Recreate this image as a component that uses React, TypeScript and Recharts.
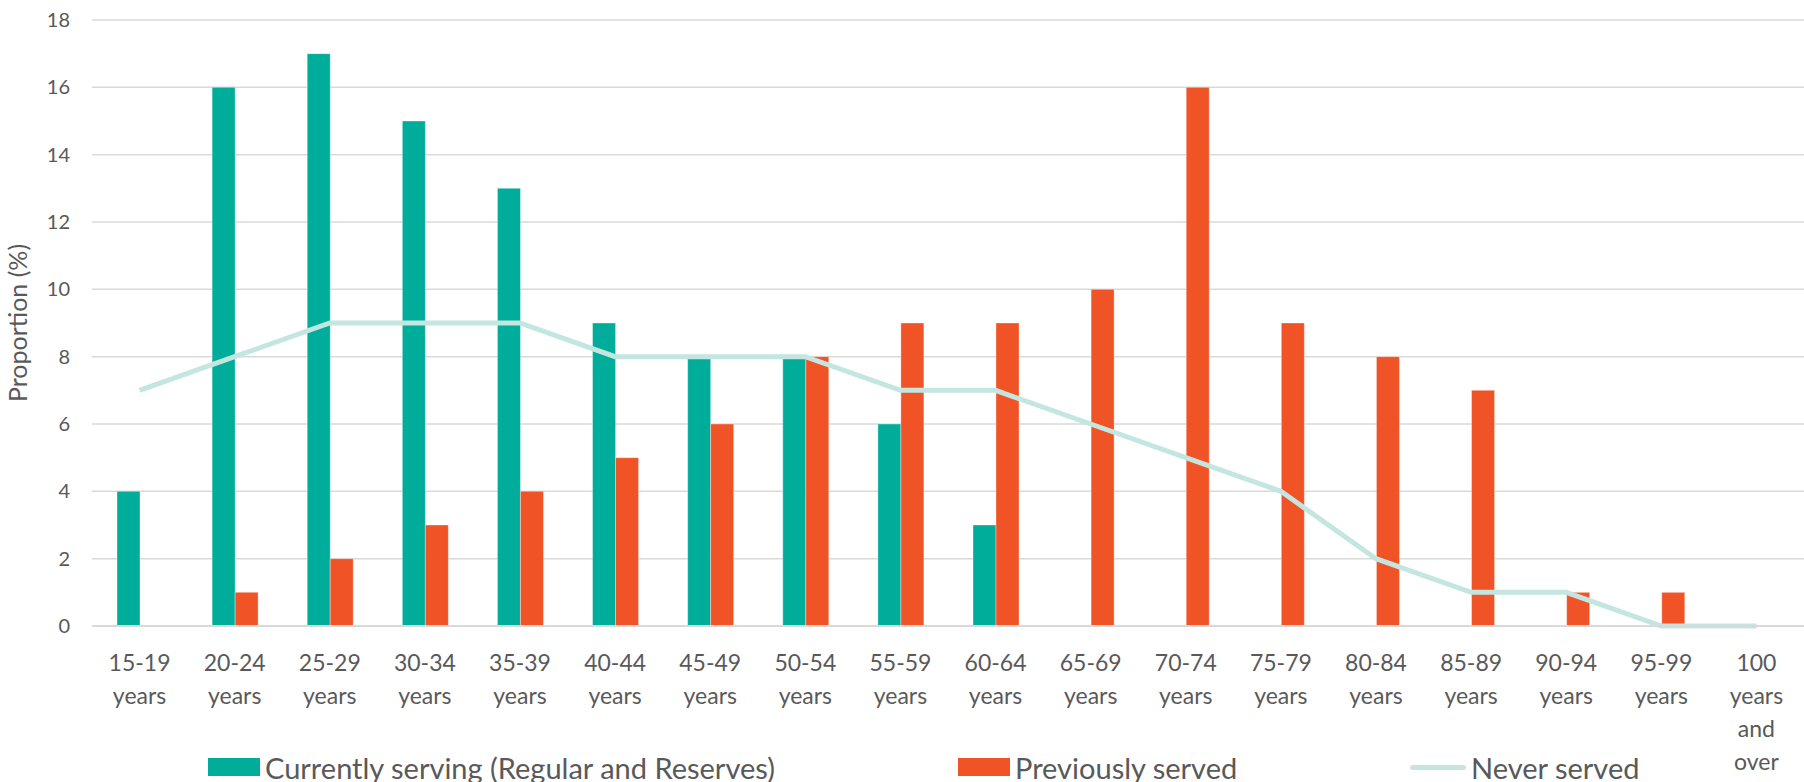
import React from 'react';
import {
  ComposedChart,
  Bar,
  Line,
  XAxis,
  YAxis,
  CartesianGrid,
} from 'recharts';

const ageGroups = [
  '15-19 years', '20-24 years', '25-29 years', '30-34 years', '35-39 years',
  '40-44 years', '45-49 years', '50-54 years', '55-59 years', '60-64 years',
  '65-69 years', '70-74 years', '75-79 years', '80-84 years', '85-89 years',
  '90-94 years', '95-99 years', '100 years and over',
];

const currentlyServing = [4, 16, 17, 15, 13, 9, 8, 8, 6, 3, 0, 0, 0, 0, 0, 0, 0, 0];
const previouslyServed = [0, 1, 2, 3, 4, 5, 6, 8, 9, 9, 10, 16, 9, 8, 7, 1, 1, 0];
const neverServed = [7, 8, 9, 9, 9, 8, 8, 8, 7, 7, 6, 5, 4, 2, 1, 1, 0, 0];

const yTicks = [0, 2, 4, 6, 8, 10, 12, 14, 16, 18];

const TEAL = '#00AC9A';
const ORANGE = '#F05325';
const LIGHT = '#C3E6E0';
const TEXT = '#595959';
const FONT = 'Lato, "Open Sans", sans-serif';

const chartData = ageGroups.map((age, i) => ({
  age,
  current: currentlyServing[i],
  previous: previouslyServed[i],
  never: neverServed[i],
}));

const AgeTick = (props: any) => {
  const { x, y, payload } = props;
  const lines = String(payload.value).split(' ');
  return (
    <g>
      <text x={x} y={y} textAnchor="middle" fill={TEXT} fontSize={23} fontFamily={FONT}>
        {lines.map((l, i) => (
          <tspan key={i} x={x} y={y + 43 + i * 33}>{l}</tspan>
        ))}
      </text>
    </g>
  );
};

const legendItems = [
  { label: 'Currently serving (Regular and Reserves)', color: TEAL, kind: 'box', left: 208 },
  { label: 'Previously served', color: ORANGE, kind: 'box', left: 958 },
  { label: 'Never served', color: LIGHT, kind: 'line', left: 1410 },
];

export default function App() {
  return (
    <div style={{ position: 'absolute', left: 0, top: 0, width: 1804, height: 782, background: '#fff' }}>
      <ComposedChart
        width={1804}
        height={782}
        data={chartData}
        margin={{ top: 20, right: 0, bottom: 0, left: 0 }}
        barGap={0}
        barSize={23}
      >
        <CartesianGrid vertical={false} stroke="#D9D9D9" strokeWidth={1.5} />
        <XAxis
          dataKey="age"
          height={156}
          interval={0}
          tickLine={false}
          tickSize={0}
          axisLine={{ stroke: '#D9D9D9', strokeWidth: 2 }}
          tick={<AgeTick />}
        />
        <YAxis
          width={92}
          domain={[0, 18]}
          ticks={yTicks}
          axisLine={false}
          tickLine={false}
          tickSize={0}
          tickMargin={22}
          tick={{ fill: TEXT, fontSize: 20, fontFamily: FONT }}
          label={{
            value: 'Proportion (%)',
            angle: -90,
            position: 'insideLeft',
            offset: 18,
            style: { textAnchor: 'middle', fill: TEXT, fontSize: 25, fontFamily: FONT },
          }}
        />
        <Bar dataKey="current" name="Currently serving (Regular and Reserves)" fill={TEAL} stroke="#ffffff" strokeOpacity={0.35} isAnimationActive={false} />
        <Bar dataKey="previous" name="Previously served" fill={ORANGE} stroke="#ffffff" strokeOpacity={0.35} isAnimationActive={false} />
        <Line
          dataKey="never"
          name="Never served"
          type="linear"
          stroke={LIGHT}
          strokeWidth={5}
          dot={false}
          activeDot={false}
          isAnimationActive={false}
        />
      </ComposedChart>
      {legendItems.map((item) => (
        <div
          key={item.label}
          style={{
            position: 'absolute',
            left: item.left,
            top: 748,
            height: 38,
            display: 'flex',
            alignItems: 'center',
            fontFamily: FONT,
            fontSize: 29,
            color: TEXT,
            whiteSpace: 'nowrap',
          }}
        >
          {item.kind === 'box' ? (
            <span style={{ display: 'inline-block', width: 52, height: 18, background: item.color, marginRight: 5 }} />
          ) : (
            <span style={{ display: 'inline-block', width: 56, height: 5, borderRadius: 3, background: item.color, marginRight: 5 }} />
          )}
          <span>{item.label}</span>
        </div>
      ))}
    </div>
  );
}
